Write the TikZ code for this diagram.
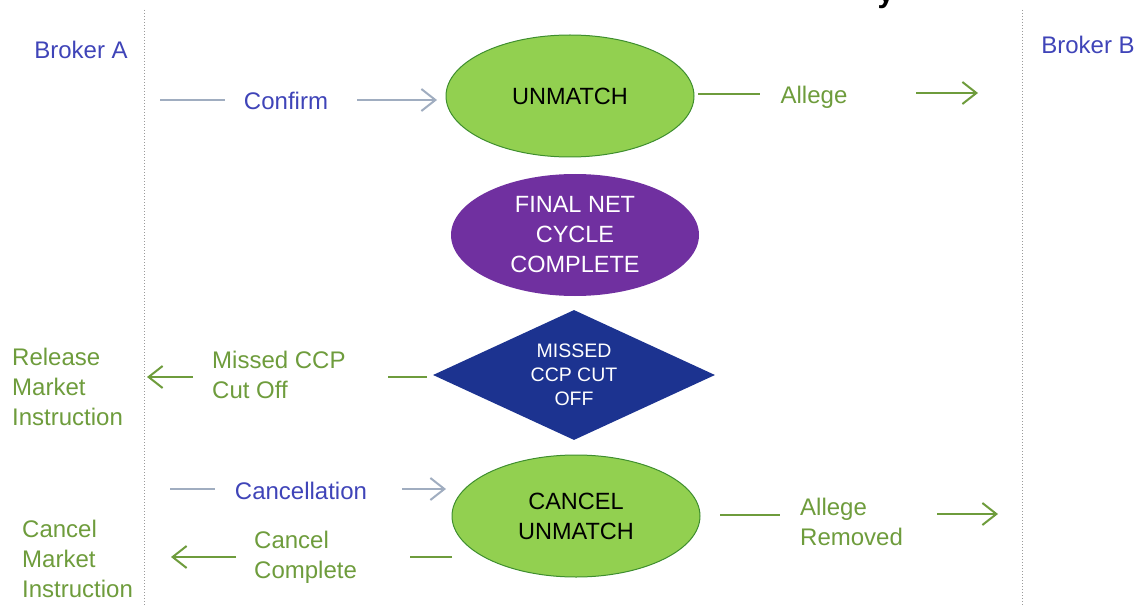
\documentclass[tikz,border=0pt]{standalone}
\usepackage{fontspec}
\setmainfont{Liberation Sans}
\usetikzlibrary{arrows.meta,shapes.geometric}
\definecolor{tblue}{HTML}{3F44B8}
\definecolor{tgreen}{HTML}{6E9C3C}
\definecolor{lgray}{HTML}{A0ADC0}
\definecolor{efill}{HTML}{92D050}
\definecolor{edraw}{HTML}{3E8E2E}
\definecolor{purp}{HTML}{7030A0}
\definecolor{dblue}{HTML}{1C3390}
\definecolor{sepgray}{HTML}{9A9A9A}
\begin{document}
\begin{tikzpicture}[x=1pt,y=-1pt,
  lbl/.style={inner sep=0pt,font=\fontsize{24}{30}\selectfont},
  bluelbl/.style={lbl,text=tblue},
  greenlbl/.style={lbl,text=tgreen,align=left,anchor=west},
  glink/.style={draw=lgray,line width=2pt},
  garrow/.style={glink,-{Straight Barb[length=14pt,width=22pt,line width=2pt]}},
  grlink/.style={draw=tgreen,line width=2pt},
  grarrow/.style={grlink,-{Straight Barb[length=14pt,width=22pt,line width=2pt]}},
  state/.style={ellipse,inner sep=0pt,minimum width=248pt,minimum height=122pt,
    font=\fontsize{23.5}{30}\selectfont,align=center},
  sep/.style={draw=sepgray,dotted,line width=1pt}
]
\useasboundingbox (0,0) rectangle (1138,607);
\clip (0,0) rectangle (1138,607);

% cut-off title fragment (cut at the top edge, as in the reference)
\node[inner sep=0pt,anchor=base,font=\fontsize{30}{30}\selectfont\bfseries] (ttl) at (886,3) {y};

% separators
\coordinate (sepAt) at (144,10);
\coordinate (sepAb) at (144,607);
\coordinate (sepBt) at (1022,10);
\coordinate (sepBb) at (1022,607);
\draw[sep] (sepAt) -- (sepAb);
\draw[sep] (sepBt) -- (sepBb);

% brokers
\node[bluelbl] (brokerA) at (81,50) {Broker A};
\node[bluelbl] (brokerB) at (1088,45) {Broker B};

% states
\node[state,fill=efill,draw=edraw,line width=1pt] (unmatch) at (570,96) {UNMATCH};
\node[state,fill=purp,text=white] (final) at (575,235) {FINAL NET\\CYCLE\\COMPLETE};
\node[diamond,fill=dblue,text=white,inner sep=0pt,aspect=2.17,
  minimum width=282pt,minimum height=130pt,
  font=\fontsize{19.5}{24}\selectfont,align=center] (missed) at (574,375) {MISSED\\CCP CUT\\OFF};
\node[state,fill=efill,draw=edraw,line width=1pt] (cancel) at (576,516) {CANCEL\\UNMATCH};

% labels
\node[bluelbl] (confirm) at (286,101) {Confirm};
\node[lbl,text=tgreen] (allege) at (814,97) {Allege};
\node[greenlbl] (missedlbl) at (212,375) {Missed CCP\\Cut Off};
\node[greenlbl] (release) at (12,387) {Release\\Market\\Instruction};
\node[bluelbl] (cancellation) at (301,491) {Cancellation};
\node[greenlbl] (cancomp) at (254,557) {Cancel\\Complete};
\node[greenlbl] (cancelmkt) at (22,559) {Cancel\\Market\\Instruction};
\node[greenlbl] (allrem) at (800,522) {Allege\\Removed};

% connector end points
\coordinate (c1a) at (160,100);  \coordinate (c1b) at (225,100);
\coordinate (c1c) at (357,100);  \coordinate (c1d) at (437,100);
\coordinate (a1a) at (698,94);   \coordinate (a1b) at (760,94);
\coordinate (a1c) at (916,93);   \coordinate (a1d) at (978,93);
\coordinate (m1a) at (427,377);  \coordinate (m1b) at (388,377);
\coordinate (m1c) at (193,377);  \coordinate (m1d) at (147,377);
\coordinate (x1a) at (170,489);  \coordinate (x1b) at (215,489);
\coordinate (x1c) at (402,489);  \coordinate (x1d) at (446,489);
\coordinate (k1a) at (452,557);  \coordinate (k1b) at (410,557);
\coordinate (k1c) at (236,557);  \coordinate (k1d) at (171,557);
\coordinate (r1a) at (720,515);  \coordinate (r1b) at (780,515);
\coordinate (r1c) at (937,514);  \coordinate (r1d) at (998,514);

% connectors
\draw[glink] (c1a) -- (c1b);
\draw[garrow] (c1c) -- (c1d);
\draw[grlink] (a1a) -- (a1b);
\draw[grarrow] (a1c) -- (a1d);
\draw[grlink] (m1a) -- (m1b);
\draw[grarrow] (m1c) -- (m1d);
\draw[glink] (x1a) -- (x1b);
\draw[garrow] (x1c) -- (x1d);
\draw[grlink] (k1a) -- (k1b);
\draw[grarrow] (k1c) -- (k1d);
\draw[grlink] (r1a) -- (r1b);
\draw[grarrow] (r1c) -- (r1d);
\end{tikzpicture}
\end{document}
